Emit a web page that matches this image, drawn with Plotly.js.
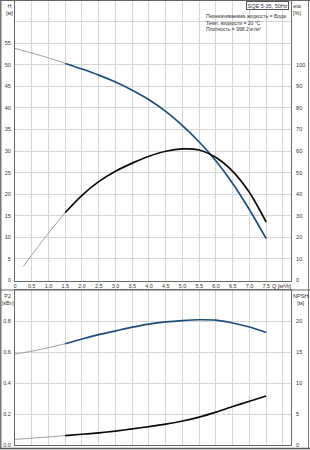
<!DOCTYPE html>
<html>
<head>
<meta charset="utf-8">
<script src="https://cdn.plot.ly/plotly-3.0.1.min.js"></script>
<style>html,body{margin:0;padding:0;background:#fff;}#chart{width:310px;height:450px;}</style>
</head>
<body>
<div id="chart"></div>
<script>
// ---- data ----
const qThin = [0, 0.5, 1.0, 1.5];
const qMain = [1.5, 2.0, 2.5, 3.0, 3.5, 4.0, 4.5, 5.0, 5.5, 6.0, 6.5, 7.0, 7.5];
const hThin = [53.8, 52.7, 51.6, 50.3];
const hMain = [50.3, 49.0, 47.6, 46.0, 44.1, 41.9, 39.2, 35.9, 32.1, 27.7, 22.5, 16.4, 9.7];
const qEtaThin = [0.25, 0.5, 1.0, 1.5];
const etaThin = [6.5, 11.8, 22.0, 31.5];
const etaMain = [31.5, 39.5, 45.8, 50.6, 54.4, 57.6, 59.9, 61.0, 60.5, 57.0, 50.6, 40.8, 27.1];
const p2Thin = [0.587, 0.605, 0.628, 0.653];
const p2Main = [0.653, 0.684, 0.712, 0.736, 0.760, 0.780, 0.794, 0.803, 0.808, 0.805, 0.787, 0.761, 0.726];
const npshThin = [0.92, 1.1, 1.3, 1.52];
const npshMain = [1.52, 1.73, 1.96, 2.25, 2.6, 2.97, 3.38, 3.87, 4.5, 5.3, 6.2, 7.05, 7.9];
const qTicks = [0, 0.5, 1.0, 1.5, 2.0, 2.5, 3.0, 3.5, 4.0, 4.5, 5.0, 5.5, 6.0, 6.5, 7.0, 7.5, 8.0];
const qTickText = ["0", "0.5", "1.0", "1.5", "2.0", "2.5", "3.0", "3.5", "4.0", "4.5", "5.0", "5.5", "6.0", "6.5", "7.0", "7.5", ""];
const hTicks = [0, 5, 10, 15, 20, 25, 30, 35, 40, 45, 50, 55, 60];
const hTickText = ["0", "5", "10", "15", "20", "25", "30", "35", "40", "45", "50", "55", ""];
const etaTicks = [0, 10, 20, 30, 40, 50, 60, 70, 80, 90, 100];
const p2Ticks = [0, 0.2, 0.4, 0.6, 0.8];
const p2TickText = ["0.0", "0.2", "0.4", "0.6", "0.8"];
const npshTicks = [0, 5, 10, 15, 20];

const BLUE = '#1d4d78', BLACK = '#0a0a0a', THIN = '#a0a0a0';
const W = 310, H = 450, ML = 15, MR = 19, MT = 0, MB = 5;
const PW = W - ML - MR, PH = H - MT - MB;
const px = v => (v - ML) / PW;
const py = v => (H - MB - v) / PH;

function tr(x, y, xa, ya, color, width) {
  return {x: x, y: y, xaxis: xa, yaxis: ya, type: 'scatter', mode: 'lines',
    line: {color: color, width: width, shape: 'spline', smoothing: 0.8},
    hoverinfo: 'skip', showlegend: false};
}
const data = [
  tr(qThin, hThin, 'x', 'y', THIN, 1),
  tr(qMain, hMain, 'x', 'y', BLUE, 1.7),
  tr(qEtaThin, etaThin, 'x', 'y2', THIN, 1),
  tr(qMain, etaMain, 'x', 'y2', BLACK, 1.7),
  tr(qThin, p2Thin, 'x2', 'y3', THIN, 1),
  tr(qMain, p2Main, 'x2', 'y3', BLUE, 1.7),
  tr(qThin, npshThin, 'x2', 'y4', THIN, 1),
  tr(qMain, npshMain, 'x2', 'y4', BLACK, 1.7)
];

const tickFont = {family: 'Liberation Sans, Arial, sans-serif', size: 5.5, color: '#333'};
const GRID = '#d6d6d6', LINE = '#666';
const topBottom = py(280.5), botTop = py(290);

const layout = {
  width: W, height: H,
  margin: {l: ML, r: MR, t: MT, b: MB, pad: 0},
  paper_bgcolor: '#fff', plot_bgcolor: '#fff',
  font: tickFont,
  showlegend: false,
  xaxis: {domain: [0, 1], anchor: 'y', range: [0, 8.24], tickvals: qTicks, ticktext: qTickText,
    showgrid: true, gridcolor: GRID, gridwidth: 1, zeroline: false, showline: true, linecolor: LINE,
    linewidth: 1, mirror: true, ticks: '', tickfont: tickFont, ticklabelstandoff: 0},
  yaxis: {domain: [topBottom, 1], anchor: 'x', range: [0, 65], tickvals: hTicks, ticktext: hTickText,
    showgrid: true, gridcolor: GRID, gridwidth: 1, zeroline: false, showline: true, linecolor: LINE,
    linewidth: 1, ticks: '', tickfont: tickFont, ticklabelstandoff: 2},
  yaxis2: {overlaying: 'y', anchor: 'x', side: 'right', range: [0, 130], tickvals: etaTicks,
    showgrid: false, zeroline: false, showline: true, linecolor: LINE, linewidth: 1,
    ticks: '', tickfont: tickFont, ticklabelstandoff: 3},
  xaxis2: {domain: [0, 1], anchor: 'y3', range: [0, 8.24], tickvals: qTicks, showticklabels: false,
    showgrid: true, gridcolor: GRID, gridwidth: 1, zeroline: false, showline: true, linecolor: LINE,
    linewidth: 1, mirror: true, ticks: ''},
  yaxis3: {domain: [0, botTop], anchor: 'x2', range: [0, 1.0], tickvals: p2Ticks, ticktext: p2TickText,
    showgrid: true, gridcolor: GRID, gridwidth: 1, zeroline: false, showline: true, linecolor: LINE,
    linewidth: 1, ticks: '', tickfont: tickFont, ticklabelstandoff: 2},
  yaxis4: {overlaying: 'y3', anchor: 'x2', side: 'right', range: [0, 25], tickvals: npshTicks,
    showgrid: false, zeroline: false, showline: true, linecolor: LINE, linewidth: 1,
    ticks: '', tickfont: tickFont, ticklabelstandoff: 3},
  shapes: [
    {type: 'line', xref: 'paper', yref: 'paper', x0: px(0.5), x1: px(0.5), y0: py(0), y1: py(449), line: {color: '#777', width: 2}},
    {type: 'line', xref: 'paper', yref: 'paper', x0: px(308.5), x1: px(308.5), y0: py(0), y1: py(449), line: {color: '#777', width: 1}},
    {type: 'line', xref: 'paper', yref: 'paper', x0: px(0), x1: px(310), y0: py(448.5), y1: py(448.5), line: {color: '#555', width: 1.5}},
    {type: 'line', xref: 'paper', yref: 'paper', x0: px(0), x1: px(310), y0: py(290), y1: py(290), line: {color: LINE, width: 1}},
    {type: 'line', xref: 'paper', yref: 'paper', x0: px(0), x1: px(310), y0: py(0.5), y1: py(0.5), line: {color: LINE, width: 1}}
  ],
  annotations: [
    {text: 'H<br>[м]', xref: 'paper', yref: 'paper', x: px(9), y: py(0.5), xanchor: 'center', yanchor: 'top', showarrow: false, font: tickFont, align: 'center'},
    {text: 'eta<br>[%]', xref: 'paper', yref: 'paper', x: px(297), y: py(0.5), xanchor: 'center', yanchor: 'top', showarrow: false, font: tickFont, align: 'center'},
    {text: 'P2<br>[кВт]', xref: 'paper', yref: 'paper', x: px(8), y: py(290.5), xanchor: 'center', yanchor: 'top', showarrow: false, font: tickFont, align: 'center'},
    {text: 'NPSH<br>[м]', xref: 'paper', yref: 'paper', x: px(300), y: py(290.5), xanchor: 'center', yanchor: 'top', showarrow: false, font: tickFont, align: 'center'},
    {text: 'Q [м³/h]', xref: 'x', yref: 'paper', x: 7.6, y: py(285.5), xanchor: 'left', yanchor: 'middle', showarrow: false, font: tickFont},
    {text: 'SQE 5-35, 50Hz', xref: 'paper', yref: 'paper', x: px(289), y: py(0.5), xanchor: 'right', yanchor: 'top', showarrow: false, font: tickFont,
      bordercolor: '#555', borderwidth: 1, borderpad: 0.5, bgcolor: '#fff'},
    {text: 'Перекачиваемая жидкость = Вода<br>Темп. жидкости = 20 °C<br>Плотность = 998.2 кг/м³', xref: 'paper', yref: 'paper',
      x: px(204), y: py(10.5), xanchor: 'left', yanchor: 'top', showarrow: false, align: 'left',
      font: {family: 'Liberation Sans, Arial, sans-serif', size: 5, color: '#333'}}
  ]
};

Plotly.newPlot('chart', data, layout, {displayModeBar: false, staticPlot: true});
</script>
</body>
</html>
